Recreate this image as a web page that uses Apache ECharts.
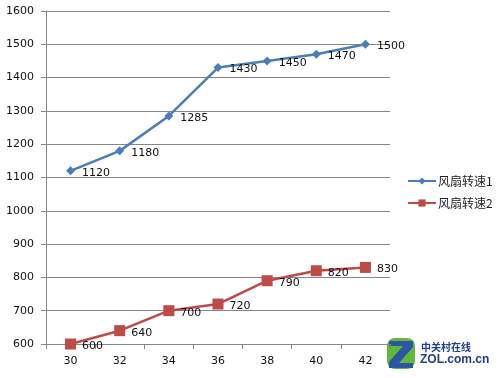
<!DOCTYPE html>
<html><head><meta charset="utf-8">
<script src="https://cdn.jsdelivr.net/npm/echarts@6/dist/echarts.min.js"></script>
<style>html,body{margin:0;padding:0;background:#fff}#c{width:500px;height:378px}</style>
</head><body><div id="c"></div>
<script>
const categories = ['30','32','34','36','38','40','42'];
const fan1 = [1120,1180,1285,1430,1450,1470,1500];
const fan2 = [600,640,700,720,790,820,830];
const seriesNames = ['风扇转速1','风扇转速2'];

const chart = echarts.init(document.getElementById('c'));
const font = 'DejaVu Sans, Noto Sans CJK SC, sans-serif';
chart.setOption({
  animation:false,
  backgroundColor:'#fff',
  textStyle:{fontFamily:font},
  grid:{left:46,right:110,top:11,bottom:34},
  legend:{
    orient:'vertical', left:402, top:170, itemGap:10, itemWidth:28, itemHeight:9,
    textStyle:{fontSize:12,color:'#222',fontFamily:'Noto Sans CJK SC, sans-serif',padding:[0,0,0,-3]},
    data:seriesNames
  },
  xAxis:{
    type:'category', data:categories, boundaryGap:true,
    axisLine:{lineStyle:{color:'#868686',width:1}},
    axisTick:{show:true,length:5,lineStyle:{color:'#868686'}},
    axisLabel:{color:'#111',fontSize:11,margin:12}
  },
  yAxis:{
    type:'value', min:600, max:1600, interval:100,
    axisLine:{show:true,lineStyle:{color:'#868686'}},
    axisTick:{show:true,length:5,lineStyle:{color:'#868686'}},
    splitLine:{lineStyle:{color:'#868686',width:1}},
    axisLabel:{color:'#111',fontSize:11,margin:12,formatter:function(v){return String(v);}}
  },
  series:[
    {name:seriesNames[0],type:'line',data:fan1,symbol:'diamond',symbolSize:9,
     itemStyle:{color:'#4A7EBB'},lineStyle:{width:2.5,color:'#4A7EBB'},
     label:{show:true,position:'right',distance:7,offset:[0,2],color:'#111',fontSize:11}},
    {name:seriesNames[1],type:'line',data:fan2,symbol:'rect',symbolSize:11,
     itemStyle:{color:'#BE4B48'},lineStyle:{width:2.5,color:'#BE4B48'},
     label:{show:true,position:'right',distance:6,offset:[0,2],color:'#111',fontSize:11}}
  ],
  graphic:[
    {type:'rect',shape:{x:387,y:338,width:28,height:31,r:8},style:{fill:'#63b83a'}},
    {type:'polygon',shape:{points:[[389,341],[413,341],[413,347],[399,363],[413,363],[413,368],[389,368],[389,362],[403,346],[389,346]]},style:{fill:'#2a56a5'}},
    {type:'text',left:421,top:342,style:{text:'中关村在线',fill:'#1d3f8f',font:'bold 10px Noto Sans CJK SC'}},
    {type:'text',left:420,top:354,style:{text:'ZOL.com.cn',fill:'#1d3f8f',font:'bold 12px Liberation Sans'}}
  ]
});
</script></body></html>
